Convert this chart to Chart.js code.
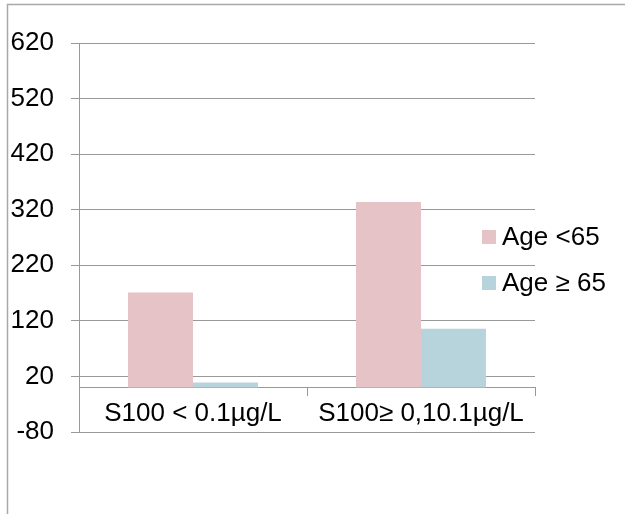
<!DOCTYPE html>
<html>
<head>
<meta charset="utf-8">
<script src="https://cdn.jsdelivr.net/npm/chart.js@4/dist/chart.umd.min.js"></script>
<style>
  html, body { margin: 0; padding: 0; background: #fff; }
  #wrap { position: relative; width: 625px; height: 514px; }
</style>
</head>
<body>
<div id="wrap"><canvas id="c" width="625" height="514"></canvas></div>
<script>
const categories = ["S100 < 0.1\u00b5g/L", "S100\u2265 0,10.1\u00b5g/L"];
const seriesNames = ["Age <65", "Age \u2265 65"];
const ageUnder65 = [171, 334];
const age65Plus = [9, 106];
const yTicks = [-80, 20, 120, 220, 320, 420, 520, 620];
const colors = ["#E6C3C6", "#B7D3DC"];

const FONT = "'Liberation Sans', Arial, sans-serif";
const FSIZE = 26;

const framePlugin = {
  id: 'frame',
  beforeDraw(chart) {
    const ctx = chart.ctx;
    ctx.save();
    ctx.strokeStyle = '#a8a8a8';
    ctx.lineWidth = 1.5;
    ctx.beginPath();
    ctx.moveTo(7.5, 514);
    ctx.lineTo(7.5, 4.5);
    ctx.lineTo(625, 4.5);
    ctx.stroke();
    ctx.restore();
  }
};

const legendPlugin = {
  id: 'customLegend',
  afterDraw(chart) {
    const ctx = chart.ctx;
    ctx.save();
    ctx.font = FSIZE + 'px ' + FONT;
    ctx.textBaseline = 'middle';
    ctx.textAlign = 'left';
    chart.data.datasets.forEach((ds, i) => {
      const cy = 237 + i * 46;
      ctx.fillStyle = ds.backgroundColor;
      ctx.fillRect(482, cy - 7, 14, 14);
      ctx.fillStyle = '#000';
      ctx.fillText(ds.label, 502, cy + 1);
    });
    ctx.restore();
  }
};

new Chart(document.getElementById('c'), {
  type: 'bar',
  data: {
    labels: categories,
    datasets: [
      { label: seriesNames[0], data: ageUnder65, backgroundColor: colors[0] },
      { label: seriesNames[1], data: age65Plus, backgroundColor: colors[1] }
    ]
  },
  options: {
    responsive: false,
    animation: false,
    devicePixelRatio: 1,
    layout: { padding: { left: 0, top: 43, right: 90, bottom: 82 } },
    categoryPercentage: 0.57,
    barPercentage: 1.0,
    plugins: { legend: { display: false }, tooltip: { enabled: false } },
    scales: {
      x: {
        position: { y: 0 },
        offset: true,
        grid: { display: true, offset: true, drawOnChartArea: false, drawTicks: true, tickLength: 8, color: '#999' },
        border: { display: true, color: '#999', width: 1 },
        ticks: { color: '#000', font: { family: FONT, size: FSIZE }, padding: 3, maxRotation: 0, autoSkip: false }
      },
      y: {
        min: -80,
        max: 620,
        afterBuildTicks(scale) { scale.ticks = yTicks.map(v => ({ value: v })); },
        afterFit(scale) { scale.width = 79; },
        grid: { color: '#999', lineWidth: 1, tickLength: 8, drawTicks: true },
        border: { display: true, color: '#999', width: 1 },
        ticks: { color: '#000', font: { family: FONT, size: FSIZE }, padding: 17 }
      }
    }
  },
  plugins: [framePlugin, legendPlugin]
});
</script>
</body>
</html>
